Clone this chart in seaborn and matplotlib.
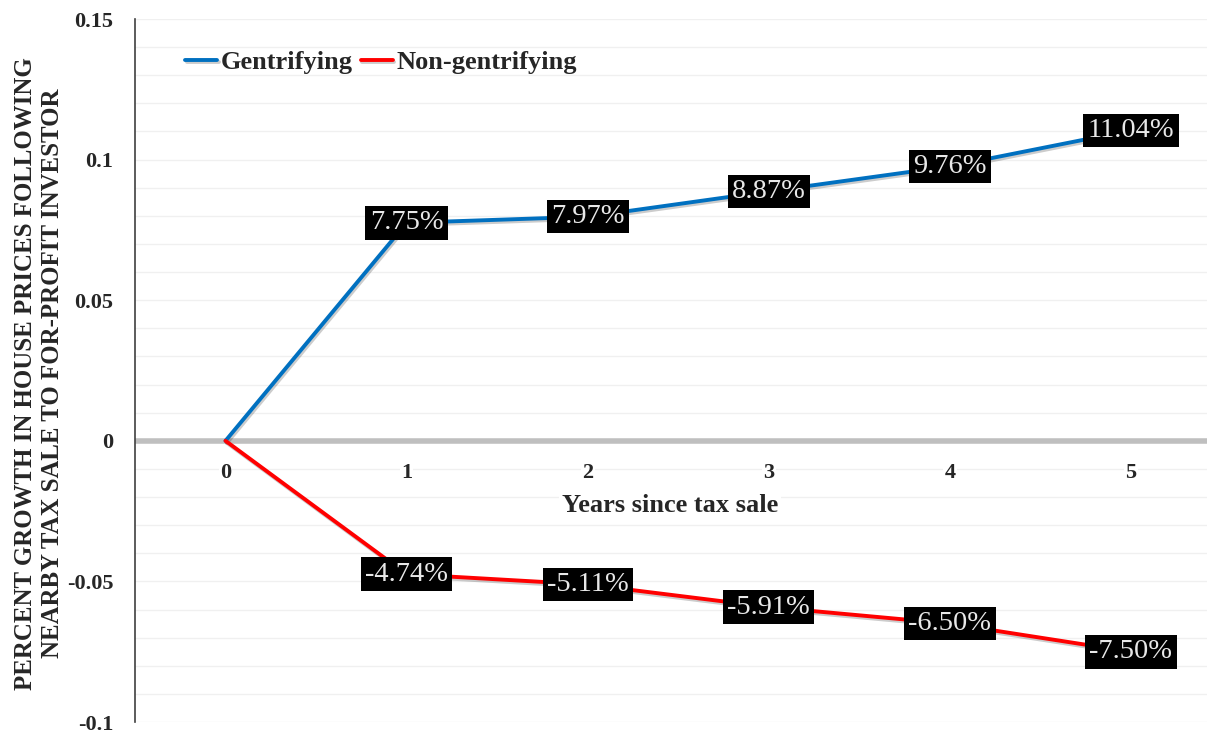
import numpy as np
import pandas as pd
import matplotlib
matplotlib.use("Agg")
import matplotlib.pyplot as plt
import matplotlib.patheffects as pe
import seaborn as sns
from matplotlib.ticker import MultipleLocator

years = [0, 1, 2, 3, 4, 5]
gentrifying = [0.0, 0.0775, 0.0797, 0.0887, 0.0976, 0.1104]
non_gentrifying = [0.0, -0.0474, -0.0511, -0.0591, -0.0650, -0.0750]
series_names = ["Gentrifying", "Non-gentrifying"]
series_colors = ["#0070C0", "#FF0000"]
y_ticks = [-0.1, -0.05, 0, 0.05, 0.1, 0.15]
y_tick_labels = ["-0.1", "-0.05", "0", "0.05", "0.1", "0.15"]

df = pd.DataFrame({
    "year": years * 2,
    "value": gentrifying + non_gentrifying,
    "series": [series_names[0]] * len(years) + [series_names[1]] * len(years),
})

sns.set_style("white")
plt.rcParams["font.family"] = ["Liberation Serif", "DejaVu Serif"]

fig = plt.figure(figsize=(12.07, 7.34), dpi=100)
ax = fig.add_axes([0.1118, 0.0163, 0.8882, 0.9578])

ax.set_ylim(-0.1, 0.15)
ax.set_xlim(-0.5, 5.42)

# light gridlines every 0.01
ax.yaxis.set_minor_locator(MultipleLocator(0.01))
ax.grid(True, axis="y", which="both", color="#f0f0f0", linewidth=1.0)
ax.set_axisbelow(True)
ax.yaxis.set_zorder(0.3)
ax.xaxis.set_zorder(0.6)

# zero line
ax.axhline(0, color="#bfbfbf", linewidth=4.0, zorder=1)

sns.lineplot(data=df, x="year", y="value", hue="series", palette=series_colors,
             hue_order=series_names, linewidth=2.8, ax=ax, zorder=3, legend=True)
for ln in ax.get_lines()[1:]:
    ln.set_path_effects([pe.SimpleLineShadow(offset=(1, -1.5), alpha=0.2, shadow_color="black"),
                         pe.Normal()])

# data labels
for ys in [gentrifying, non_gentrifying]:
    for x, y in zip(years[1:], ys[1:]):
        ax.text(x, y, f"{y*100:.2f}%", ha="center", va="center", fontsize=20.5,
                fontweight="normal", color="#e8e8e8", zorder=5,
                bbox=dict(boxstyle="square,pad=0.15", facecolor="black", edgecolor="none"))

# axes styling
for s in ["top", "right"]:
    ax.spines[s].set_visible(False)
ax.spines["bottom"].set_position(("data", 0))
ax.spines["bottom"].set_visible(False)
ax.spines["left"].set_color("#404040")
ax.spines["left"].set_linewidth(1.2)

ax.set_yticks(y_ticks)
ax.set_yticklabels(y_tick_labels)
ax.set_xticks(years)
ax.set_xticklabels([str(y) for y in years])
ax.tick_params(axis="x", length=0, pad=16, labelsize=16)
ax.tick_params(axis="y", which="major", length=7, width=1.2, color="#404040", labelsize=16, pad=8.5)
ax.tick_params(axis="y", which="minor", length=7, width=1.0, color="#404040")
for lab in ax.get_xticklabels():
    lab.set_fontweight("bold")
    lab.set_bbox(dict(facecolor="white", edgecolor="none", pad=1))
for lab in ax.get_yticklabels():
    lab.set_fontweight("bold")

ax.set_xlabel("Years since tax sale", fontsize=19, fontweight="bold",
              bbox=dict(facecolor="white", edgecolor="none", pad=2))
ax.xaxis.set_label_coords(0.499, 0.325)
ax.set_ylabel("PERCENT GROWTH IN HOUSE PRICES FOLLOWING\nNEARBY TAX SALE TO FOR-PROFIT INVESTOR",
              fontsize=17.9, fontweight="bold", linespacing=1.25)
ax.yaxis.set_label_coords(-0.066, 0.496)

leg = ax.legend(loc="upper left", bbox_to_anchor=(0.025, 0.989), ncol=2, frameon=False,
                fontsize=19, handlelength=1.2, handletextpad=0.15, columnspacing=0.3)
for t in leg.get_texts():
    t.set_fontweight("bold")
for h in leg.legend_handles:
    h.set_linewidth(2.8)

fig.savefig("out.png", dpi=100)
